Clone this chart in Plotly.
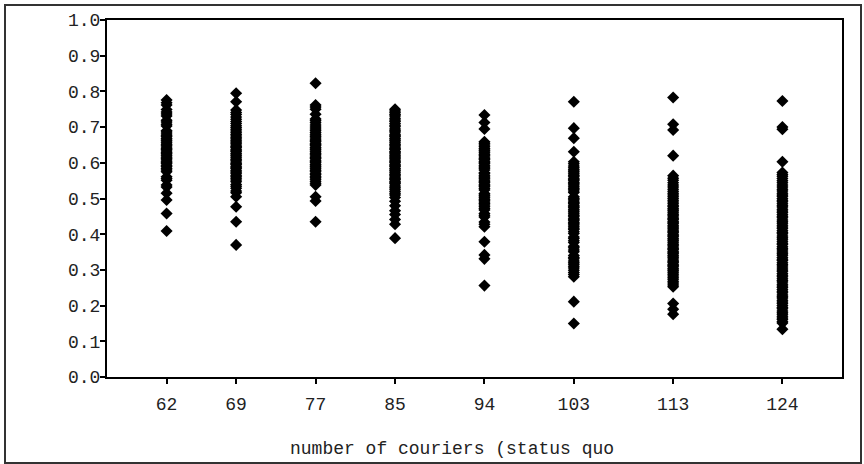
import plotly.graph_objects as go

# Category positions (number of couriers)
couriers = [62, 69, 77, 85, 94, 103, 113, 124]

# Values, one list per courier count
v62 = [0.409, 0.458, 0.496, 0.515, 0.532, 0.538, 0.551, 0.556, 0.561, 0.575, 0.58, 0.584,
       0.589, 0.592, 0.597, 0.6, 0.603, 0.608, 0.611, 0.614, 0.619, 0.622, 0.626, 0.629,
       0.633, 0.637, 0.64, 0.644, 0.649, 0.652, 0.656, 0.661, 0.664, 0.668, 0.673, 0.676,
       0.681, 0.686, 0.69, 0.703, 0.708, 0.714, 0.719, 0.731, 0.737, 0.742, 0.749, 0.762,
       0.768, 0.776]
v69 = [0.370, 0.435, 0.477, 0.505, 0.516, 0.521, 0.529, 0.534, 0.539, 0.547, 0.552, 0.557,
       0.561, 0.565, 0.571, 0.574, 0.578, 0.583, 0.586, 0.59, 0.595, 0.598, 0.602, 0.607,
       0.61, 0.614, 0.619, 0.622, 0.626, 0.631, 0.634, 0.638, 0.643, 0.646, 0.65, 0.655,
       0.658, 0.662, 0.667, 0.67, 0.675, 0.679, 0.684, 0.689, 0.694, 0.699, 0.704, 0.71,
       0.716, 0.722, 0.728, 0.735, 0.741, 0.748, 0.771, 0.795]
v77 = [0.435, 0.493, 0.505, 0.538, 0.543, 0.548, 0.554, 0.558, 0.562, 0.567, 0.571, 0.576,
       0.579, 0.583, 0.588, 0.591, 0.595, 0.6, 0.603, 0.607, 0.612, 0.615, 0.619, 0.624,
       0.627, 0.631, 0.636, 0.639, 0.643, 0.648, 0.651, 0.655, 0.66, 0.663, 0.667, 0.672,
       0.675, 0.68, 0.685, 0.69, 0.695, 0.7, 0.706, 0.712, 0.718, 0.723, 0.736, 0.75,
       0.756, 0.762, 0.823]
v85 = [0.389, 0.428, 0.441, 0.455, 0.466, 0.48, 0.492, 0.503, 0.51, 0.515, 0.52, 0.526,
       0.53, 0.535, 0.541, 0.544, 0.548, 0.553, 0.556, 0.56, 0.565, 0.568, 0.572, 0.577,
       0.58, 0.584, 0.589, 0.592, 0.596, 0.601, 0.604, 0.608, 0.613, 0.616, 0.62, 0.625,
       0.628, 0.632, 0.637, 0.64, 0.644, 0.649, 0.652, 0.656, 0.661, 0.664, 0.668, 0.673,
       0.676, 0.68, 0.686, 0.69, 0.695, 0.701, 0.705, 0.71, 0.716, 0.72, 0.725, 0.731,
       0.735, 0.74, 0.745, 0.75]
v94 = [0.256, 0.331, 0.342, 0.379, 0.421, 0.428, 0.434, 0.448, 0.453, 0.458, 0.468, 0.472,
       0.477, 0.482, 0.486, 0.49, 0.495, 0.498, 0.502, 0.507, 0.51, 0.514, 0.524, 0.528,
       0.533, 0.536, 0.54, 0.545, 0.548, 0.552, 0.557, 0.56, 0.564, 0.569, 0.572, 0.58,
       0.585, 0.588, 0.592, 0.597, 0.6, 0.604, 0.609, 0.612, 0.616, 0.621, 0.624, 0.628,
       0.633, 0.636, 0.64, 0.645, 0.65, 0.655, 0.659, 0.695, 0.713, 0.734]
v103 = [0.150, 0.211, 0.281, 0.287, 0.293, 0.299, 0.305, 0.31, 0.316, 0.32, 0.325, 0.331,
        0.335, 0.34, 0.351, 0.356, 0.362, 0.366, 0.377, 0.382, 0.388, 0.392, 0.402, 0.407,
        0.413, 0.417, 0.421, 0.426, 0.429, 0.433, 0.438, 0.441, 0.445, 0.45, 0.453, 0.457,
        0.462, 0.465, 0.469, 0.474, 0.477, 0.481, 0.486, 0.489, 0.493, 0.498, 0.501, 0.505,
        0.517, 0.521, 0.526, 0.529, 0.533, 0.538, 0.541, 0.545, 0.55, 0.553, 0.557, 0.562,
        0.565, 0.569, 0.574, 0.577, 0.581, 0.586, 0.591, 0.597, 0.603, 0.631, 0.669, 0.697,
        0.771]
v113 = [0.176, 0.190, 0.206, 0.253, 0.258, 0.263, 0.268, 0.274, 0.278, 0.283, 0.288, 0.292,
        0.297, 0.3, 0.304, 0.309, 0.312, 0.316, 0.321, 0.324, 0.328, 0.333, 0.336, 0.34,
        0.345, 0.348, 0.352, 0.357, 0.36, 0.364, 0.369, 0.372, 0.376, 0.381, 0.384, 0.388,
        0.393, 0.396, 0.4, 0.405, 0.408, 0.412, 0.417, 0.42, 0.424, 0.429, 0.432, 0.436,
        0.441, 0.444, 0.448, 0.453, 0.456, 0.46, 0.465, 0.468, 0.472, 0.477, 0.48, 0.485,
        0.49, 0.495, 0.5, 0.505, 0.51, 0.515, 0.52, 0.526, 0.532, 0.538, 0.544, 0.551,
        0.557, 0.564, 0.620, 0.692, 0.708, 0.783]
v124 = [0.134, 0.151, 0.155, 0.161, 0.165, 0.17, 0.176, 0.18, 0.185, 0.191, 0.195, 0.2,
        0.206, 0.21, 0.215, 0.221, 0.225, 0.23, 0.236, 0.24, 0.245, 0.251, 0.255, 0.26,
        0.266, 0.27, 0.275, 0.281, 0.285, 0.29, 0.296, 0.3, 0.305, 0.311, 0.315, 0.32,
        0.326, 0.33, 0.335, 0.341, 0.345, 0.35, 0.356, 0.36, 0.365, 0.371, 0.375, 0.38,
        0.386, 0.39, 0.395, 0.401, 0.405, 0.41, 0.416, 0.42, 0.425, 0.431, 0.435, 0.44,
        0.446, 0.45, 0.455, 0.461, 0.465, 0.47, 0.476, 0.48, 0.485, 0.491, 0.495, 0.5,
        0.506, 0.51, 0.515, 0.521, 0.526, 0.532, 0.538, 0.544, 0.55, 0.556, 0.562, 0.567,
        0.573, 0.603, 0.694, 0.700, 0.773]

series = [v62, v69, v77, v85, v94, v103, v113, v124]

xs, ys = [], []
for c, vals in zip(couriers, series):
    xs.extend([c] * len(vals))
    ys.extend(vals)

FONT = "Courier New, Liberation Mono, monospace"
TXT = "#222"

fig = go.Figure(go.Scatter(
    x=xs, y=ys, mode="markers",
    marker=dict(symbol="diamond", size=9.3, color="black", line=dict(width=0)),
    showlegend=False, hoverinfo="skip",
))

fig.update_layout(
    width=864, height=464,
    margin=dict(l=107, r=22, t=20, b=87),
    paper_bgcolor="white", plot_bgcolor="white",
    font=dict(family=FONT, size=18, color=TXT),
    xaxis=dict(
        range=[56, 130], tickvals=couriers, ticktext=[str(c) for c in couriers],
        showgrid=False, zeroline=False,
        showline=True, linecolor="black", linewidth=2, mirror=True,
        ticks="outside", ticklen=5, tickwidth=2, tickcolor="black",
        ticklabelstandoff=4,
        tickfont=dict(family=FONT, size=18, color=TXT),
    ),
    yaxis=dict(
        range=[0, 1], tickvals=[i / 10 for i in range(11)],
        ticktext=[f"{i / 10:.1f}" for i in range(11)],
        showgrid=False, zeroline=False,
        showline=True, linecolor="black", linewidth=2, mirror=True,
        ticks="outside", ticklen=5, tickwidth=2, tickcolor="black",
        ticklabelstandoff=-4,
        tickfont=dict(family=FONT, size=18, color=TXT),
    ),
    annotations=[dict(
        text="number of couriers (status quo", xref="paper", yref="paper",
        x=(452 - 107) / 735, y=(377 - 449) / 357, xanchor="center", yanchor="middle",
        showarrow=False, font=dict(family=FONT, size=18, color=TXT),
    )],
    shapes=[dict(
        type="rect", xref="paper", yref="paper",
        x0=(5 - 107) / 735, x1=(861 - 107) / 735,
        y0=(377 - 463) / 357, y1=(377 - 5) / 357,
        line=dict(color="#333", width=2), fillcolor="rgba(0,0,0,0)", layer="below",
    )],
)

fig.write_html(
    "out.html",
    config={"displayModeBar": False},
    post_script="document.body.style.margin='0';document.body.style.overflow='hidden';",
)
